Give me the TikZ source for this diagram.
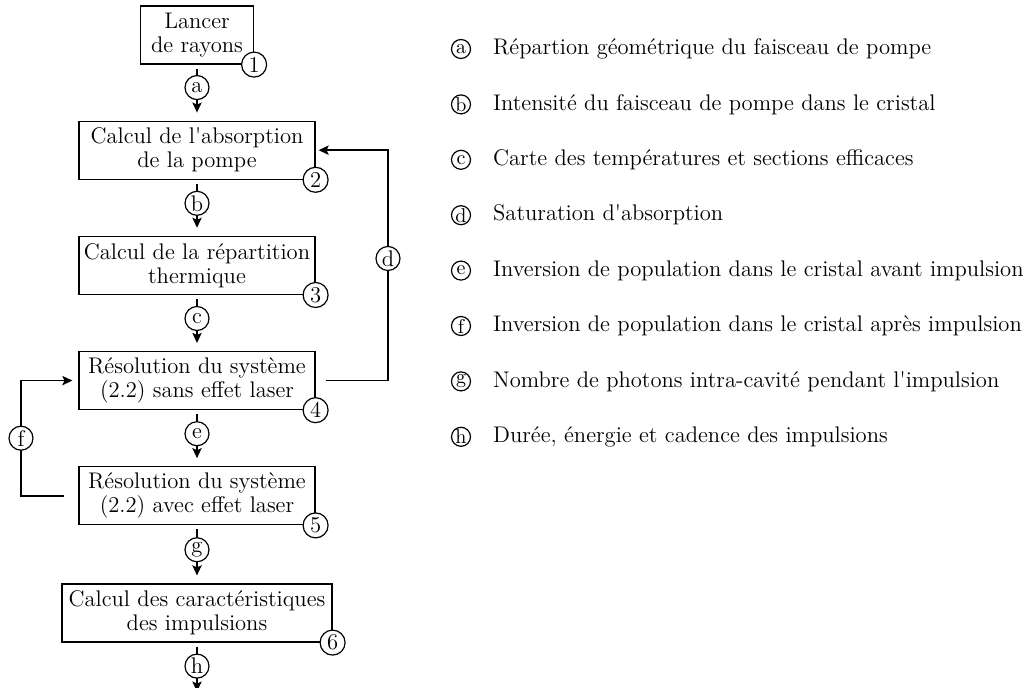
\documentclass[tikz,border=0pt]{standalone}
\usetikzlibrary{positioning,arrows.meta}
\begin{document}
\begin{tikzpicture}[
    x=1pt, y=1pt,
    node distance=28pt,
    every node/.style={font=\fontsize{11.3}{12}\selectfont},
    stage/.style={rectangle, draw=black, line width=0.6pt, minimum width=118pt, minimum height=29pt, align=center, inner sep=2pt},
    num/.style={circle, draw=black, fill=white, line width=0.6pt, minimum size=12.5pt, inner sep=0pt},
    lbl/.style={circle, draw=black, fill=white, line width=0.6pt, minimum size=12pt, inner sep=0pt},
    key/.style={circle, draw=black, line width=0.6pt, minimum size=9.5pt, inner sep=0pt, font=\fontsize{10}{12}\selectfont},
    arrow/.style={-{Stealth[length=5pt,width=4.6pt,inset=1pt]}, line width=0.9pt},
    flow/.style={arrow, shorten <=2pt, shorten >=4pt}
]
    \useasboundingbox (0,0) rectangle (515,-344);

    % chain of computation steps
    \node[stage, minimum width=56.5pt] (box1) at (98.5,-17.5) {Lancer\\de rayons};
    \node[stage, below=of box1] (box2) {Calcul de l\textquotesingle absorption\\de la pompe};
    \node[stage, below=of box2] (box3) {Calcul de la répartition\\thermique};
    \node[stage, below=of box3] (box4) {Résolution du système\\(2.2) sans effet laser};
    \node[stage, below=of box4] (box5) {Résolution du système\\(2.2) avec effet laser};
    \node[stage, minimum width=135pt, below=29pt of box5] (box6) {Calcul des caractéristiques\\des impulsions};
    \coordinate[below=24.5pt of box6] (out);

    \node[num] (n1) at (box1.south east) {1};
    \node[num] (n2) at (box2.south east) {2};
    \node[num] (n3) at (box3.south east) {3};
    \node[num] (n4) at (box4.south east) {4};
    \node[num] (n5) at (box5.south east) {5};
    \node[num] (n6) at (box6.south east) {6};

    \draw[flow] (box1.south) -- node[lbl, pos=0.41] {a} (box2.north);
    \draw[flow] (box2.south) -- node[lbl, pos=0.42] {b} (box3.north);
    \draw[flow] (box3.south) -- node[lbl, pos=0.42] {c} (box4.north);
    \draw[flow] (box4.south) -- node[lbl, pos=0.42] {e} (box5.north);
    \draw[flow] (box5.south) -- node[lbl, pos=0.42] {g} (box6.north);
    \draw[arrow, shorten <=2pt] (box6.south) -- node[lbl, pos=0.48] {h} (out);

    % feedback loops
    \coordinate (dcol) at (194,0);
    \coordinate (fcol) at (10.5,0);
    \draw[arrow, shorten <=5pt, shorten >=1.5pt] (box4.east) -- (box4.east -| dcol)
        -- node[lbl, pos=0.53] {d} (box2.east -| dcol) -- (box2.east);
    \draw[arrow, shorten <=7pt, shorten >=3pt] (box5.west) -- (box5.west -| fcol)
        -- node[lbl] {f} (box4.west -| fcol) -- (box4.west);

    % legend
    \node[key] (keyA) at (230.5,-24.5) {a};
    \node[key, below=17.6pt of keyA] (keyB) {b};
    \node[key, below=17.6pt of keyB] (keyC) {c};
    \node[key, below=17.6pt of keyC] (keyD) {d};
    \node[key, below=17.6pt of keyD] (keyE) {e};
    \node[key, below=17.6pt of keyE] (keyF) {f};
    \node[key, below=17.6pt of keyF] (keyG) {g};
    \node[key, below=17.6pt of keyG] (keyH) {h};

    \node[right=7.5pt of keyA] (descA) {Répartion géométrique du faisceau de pompe};
    \node[right=7.5pt of keyB] (descB) {Intensité du faisceau de pompe dans le cristal};
    \node[right=7.5pt of keyC] (descC) {Carte des températures et sections efficaces};
    \node[right=7.5pt of keyD] (descD) {Saturation d\textquotesingle absorption};
    \node[right=7.5pt of keyE] (descE) {Inversion de population dans le cristal avant impulsion};
    \node[right=7.5pt of keyF] (descF) {Inversion de population dans le cristal après impulsion};
    \node[right=7.5pt of keyG] (descG) {Nombre de photons intra-cavité pendant l\textquotesingle impulsion};
    \node[right=7.5pt of keyH] (descH) {Durée, énergie et cadence des impulsions};
\end{tikzpicture}
\end{document}
